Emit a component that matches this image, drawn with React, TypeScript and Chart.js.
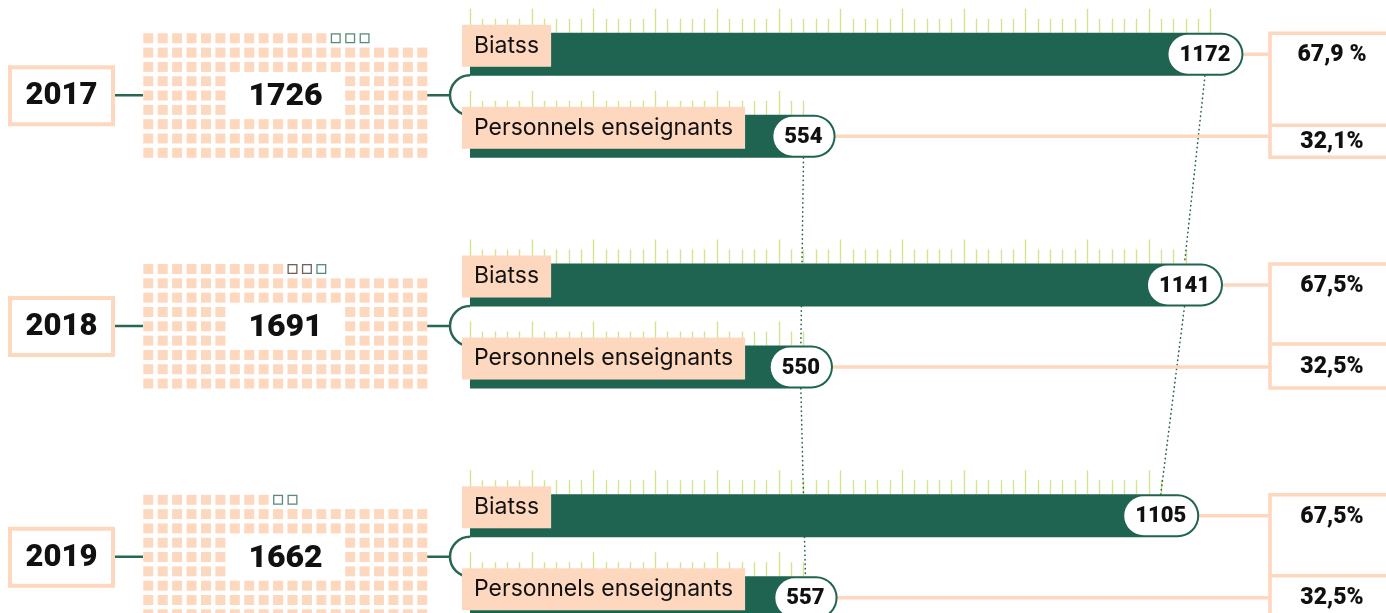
import React, { useEffect, useRef } from "react";
import { Chart, registerables } from "chart.js";

Chart.register(...registerables);

// ---- data ----
const years = ["2017", "2018", "2019"];
const totals = [1726, 1691, 1662];
const categories = ["Biatss", "Personnels enseignants"];
const biatss = [1172, 1141, 1105];
const enseignants = [554, 550, 557];
const pctBiatss = ["67,9 %", "67,5%", "67,5%"];
const pctEnseignants = ["32,1%", "32,5%", "32,5%"];
const waffleFilled = [173, 170, 169];
const waffleOutlined = [3, 3, 2];

// ---- style ----
const GREEN = "#1f6351";
const LINE_GREEN = "#2a6753";
const PEACH = "#fdd8bf";
const LIME = "#d3e48e";
const TEXT = "#111111";
const BOLD = (s: number) => `900 ${s}px Roboto, 'Liberation Sans', Arial, sans-serif`;
const REG = (s: number) => `${s}px Inter, 'Noto Sans', sans-serif`;
const TICK_STEP = 18.7;
const PCT_X = 1270;
const SEP_OFFSET = [92, 80, 81];

function pillGeom(ctx: CanvasRenderingContext2D, bar: any, value: number) {
  ctx.font = BOLD(22);
  const w = ctx.measureText(String(value)).width + 22;
  const right = bar.x - 2;
  const left = right - w;
  const top = bar.y - bar.height / 2 + 2;
  const bottom = bar.y + bar.height / 2 - 2;
  return { left, right, top, bottom, cx: (left + right) / 2 };
}

function roundRect(ctx: CanvasRenderingContext2D, x: number, y: number, w: number, h: number, r: number) {
  ctx.beginPath();
  ctx.moveTo(x + r, y);
  ctx.lineTo(x + w - r, y);
  ctx.arc(x + w - r, y + r, r, -Math.PI / 2, 0);
  ctx.lineTo(x + w, y + h - r);
  ctx.arc(x + w - r, y + h - r, r, 0, Math.PI / 2);
  ctx.lineTo(x + r, y + h);
  ctx.arc(x + r, y + h - r, r, Math.PI / 2, Math.PI);
  ctx.lineTo(x, y + r);
  ctx.arc(x + r, y + r, r, Math.PI, Math.PI * 1.5);
  ctx.closePath();
}

const decor = {
  id: "decor",
  beforeDatasetsDraw(chart: any) {
    const ctx: CanvasRenderingContext2D = chart.ctx;
    const xs = chart.scales.x;
    const ys = chart.scales.y;
    const metas = [chart.getDatasetMeta(0), chart.getDatasetMeta(1)];
    const series = [biatss, enseignants];
    const W = chart.width;
    ctx.save();

    // scale ticks above each bar
    ctx.strokeStyle = LIME;
    ctx.lineWidth = 1.4;
    metas.forEach((meta, d) => {
      meta.data.forEach((bar: any, i: number) => {
        const top = bar.y - bar.height / 2;
        const n = Math.floor((series[d][i] - 40) / TICK_STEP);
        for (let k = 0; k <= n; k++) {
          const px = Math.round(xs.getPixelForValue(k * TICK_STEP)) + 0.5;
          const len = k % 5 === 0 ? 24 : 14;
          ctx.beginPath();
          ctx.moveTo(px, top);
          ctx.lineTo(px, top - len);
          ctx.stroke();
        }
      });
    });

    // dotted connectors between years
    ctx.strokeStyle = LINE_GREEN;
    ctx.lineWidth = 1.6;
    ctx.lineCap = "round";
    ctx.setLineDash([0.5, 4]);
    metas.forEach((meta, d) => {
      for (let i = 0; i < meta.data.length - 1; i++) {
        const a = meta.data[i];
        const b = meta.data[i + 1];
        const pa = pillGeom(ctx, a, series[d][i]);
        const pb = pillGeom(ctx, b, series[d][i + 1]);
        ctx.beginPath();
        ctx.moveTo(pa.cx, a.y + a.height / 2);
        ctx.lineTo(pb.cx, b.y - b.height / 2);
        ctx.stroke();
      }
    });
    ctx.setLineDash([]);
    ctx.lineCap = "butt";

    // percentage boxes and connectors
    years.forEach((_, i) => {
      const b0 = metas[0].data[i];
      const b1 = metas[1].data[i];
      const top = b0.y - b0.height / 2 + 0.5;
      const bottom = b1.y + b1.height / 2 - 0.5;
      const sep = top + SEP_OFFSET[i];
      ctx.strokeStyle = PEACH;
      ctx.lineWidth = 3.6;
      ctx.beginPath();
      ctx.moveTo(b0.x, b0.y);
      ctx.lineTo(PCT_X, b0.y);
      ctx.moveTo(b1.x, b1.y);
      ctx.lineTo(PCT_X, b1.y);
      ctx.moveTo(W, top);
      ctx.lineTo(PCT_X, top);
      ctx.lineTo(PCT_X, bottom);
      ctx.lineTo(W, bottom);
      ctx.moveTo(PCT_X, sep);
      ctx.lineTo(W, sep);
      ctx.stroke();
      ctx.fillStyle = TEXT;
      ctx.font = BOLD(23);
      ctx.textAlign = "center";
      ctx.textBaseline = "middle";
      ctx.fillText(pctBiatss[i], 1332, b0.y + 1);
      ctx.fillText(pctEnseignants[i], 1332, (sep + bottom) / 2 + 1);
    });

    // left side: year box, waffle, connectors
    const x0 = xs.getPixelForValue(0);
    years.forEach((yr, i) => {
      const cy = ys.getPixelForValue(i);
      // year box
      ctx.strokeStyle = PEACH;
      ctx.lineWidth = 4;
      ctx.fillStyle = "#ffffff";
      ctx.fillRect(10, cy - 28, 103, 57);
      ctx.strokeRect(10, cy - 28, 103, 57);
      ctx.fillStyle = TEXT;
      ctx.font = BOLD(31);
      ctx.textAlign = "center";
      ctx.textBaseline = "middle";
      ctx.fillText(yr, 61.5, cy + 1);

      // green links
      ctx.strokeStyle = LINE_GREEN;
      ctx.lineWidth = 2.5;
      ctx.beginPath();
      ctx.moveTo(115, cy);
      ctx.lineTo(143, cy);
      ctx.moveTo(427, cy);
      ctx.lineTo(x0 - 20, cy);
      ctx.stroke();
      ctx.beginPath();
      ctx.arc(x0, cy, 20, -Math.PI / 2, Math.PI / 2, true);
      ctx.stroke();

      // waffle (20 cols x 9 rows, filled from bottom, hole for text)
      const left = 143.3;
      const topY = cy - 62;
      const pX = 14.42;
      const pY = 14.32;
      const full = 160;
      const topRow = waffleFilled[i] - full;
      for (let r = 0; r < 9; r++) {
        for (let c = 0; c < 20; c++) {
          const inHole = r >= 3 && r <= 5 && c >= 6 && c <= 13;
          if (inHole) continue;
          const x = left + c * pX;
          const y = topY + r * pY;
          if (r === 0) {
            if (c < topRow) {
              ctx.fillStyle = PEACH;
              ctx.fillRect(x, y, 10, 10);
            } else if (c < topRow + waffleOutlined[i]) {
              ctx.strokeStyle = i === 1 && c < topRow + 2 ? "#6f625d" : "#5b8a79";
              ctx.lineWidth = 1.3;
              ctx.strokeRect(x + 0.65, y + 0.65, 8.7, 8.7);
            }
          } else {
            ctx.fillStyle = PEACH;
            ctx.fillRect(x, y, 10, 10);
          }
        }
      }
      ctx.fillStyle = TEXT;
      ctx.font = BOLD(32);
      ctx.textAlign = "center";
      ctx.textBaseline = "middle";
      ctx.fillText(String(totals[i]), 285.5, cy + 2);
    });
    ctx.restore();
  },
  afterDatasetsDraw(chart: any) {
    const ctx: CanvasRenderingContext2D = chart.ctx;
    const xs = chart.scales.x;
    const metas = [chart.getDatasetMeta(0), chart.getDatasetMeta(1)];
    const series = [biatss, enseignants];
    const x0 = xs.getPixelForValue(0);
    ctx.save();
    metas.forEach((meta, d) => {
      meta.data.forEach((bar: any, i: number) => {
        // category label box
        const top = bar.y - bar.height / 2;
        ctx.font = REG(23);
        const tw = ctx.measureText(categories[d]).width;
        ctx.fillStyle = PEACH;
        ctx.fillRect(x0 - 8, top - 8, tw + 24, 42);
        ctx.fillStyle = TEXT;
        ctx.textAlign = "left";
        ctx.textBaseline = "middle";
        ctx.fillText(categories[d], x0 + 4, top + 13);

        // value pill
        const p = pillGeom(ctx, bar, series[d][i]);
        ctx.fillStyle = "#ffffff";
        roundRect(ctx, p.left, p.top, p.right - p.left, p.bottom - p.top, (p.bottom - p.top) / 2);
        ctx.fill();
        ctx.fillStyle = TEXT;
        ctx.font = BOLD(22);
        ctx.textAlign = "center";
        ctx.textBaseline = "middle";
        ctx.fillText(String(series[d][i]), p.cx, bar.y + 1);
      });
    });
    ctx.restore();
  },
};

export default function App() {
  const ref = useRef<HTMLCanvasElement | null>(null);
  useEffect(() => {
    if (!ref.current) return;
    const chart = new Chart(ref.current, {
      type: "bar",
      data: {
        datasets: [
          {
            label: categories[0],
            data: biatss.map((v, i) => ({ x: v, y: i })),
            backgroundColor: GREEN,
            borderRadius: 22,
            borderSkipped: "start",
            categoryPercentage: 0.7107,
            barPercentage: 0.524,
          },
          {
            label: categories[1],
            data: enseignants.map((v, i) => ({ x: v, y: i })),
            backgroundColor: GREEN,
            borderRadius: 22,
            borderSkipped: "start",
            categoryPercentage: 0.7107,
            barPercentage: 0.524,
          },
        ] as any,
      },
      options: {
        indexAxis: "y",
        animation: false,
        responsive: true,
        maintainAspectRatio: false,
        layout: { padding: { left: 470, right: 0, top: 0, bottom: 0 } },
        scales: {
          x: { type: "linear", display: false, min: 0, max: 1388, offset: false },
          y: {
            type: "linear",
            display: false,
            reverse: true,
            offset: false,
            min: -0.4128,
            max: 2.2437,
            ticks: { stepSize: 1, includeBounds: false },
          },
        },
        plugins: { legend: { display: false }, tooltip: { enabled: false } },
      } as any,
      plugins: [decor],
    });
    return () => chart.destroy();
  }, []);
  return (
    <div style={{ position: "fixed", left: 0, top: 0, width: "1386px", height: "613px", background: "#fff" }}>
      <canvas ref={ref} />
    </div>
  );
}
